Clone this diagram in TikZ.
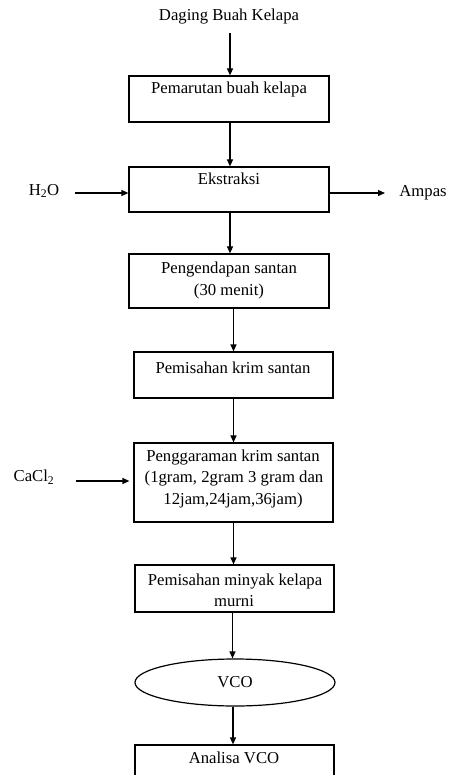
\documentclass[tikz,border=0pt]{standalone}
\usepackage{fontspec}
\setmainfont{Liberation Serif}
\usetikzlibrary{arrows.meta,shapes.geometric}
\begin{document}
\begin{tikzpicture}[x=1pt,y=-1pt,
  font=\fontsize{16.7}{19}\selectfont,
  stepbox/.style={draw,line width=1.2pt,minimum width=200pt,inner sep=0pt},
  oval/.style={draw,ellipse,line width=1.2pt,minimum width=200pt,minimum height=47pt,inner sep=0pt},
  txt/.style={inner sep=0pt},
  flow/.style={line width=1.2pt,-{Triangle[length=7pt,width=6pt]}}]
\useasboundingbox (0,0) rectangle (449,775);
\clip (0,0) rectangle (449,775);
\fill[white] (0,0) rectangle (449,775);
% boxes
\node[stepbox,minimum height=46pt] (b1) at (229,99) {};
\node[stepbox,minimum height=45pt] (b2) at (229,189.5) {};
\node[stepbox,minimum height=54pt] (b3) at (229,281) {};
\node[stepbox,minimum width=199pt,minimum height=46pt] (b4) at (233.5,375) {};
\node[stepbox,minimum width=199pt,minimum height=79pt] (b5) at (233.5,482.5) {};
\node[stepbox,minimum width=199pt,minimum height=47pt] (b6) at (234.5,588.5) {};
\node[oval] (vco) at (235,682.5) {VCO};
\node[stepbox,minimum width=199pt,minimum height=46pt] (b7) at (234.5,768) {};
% texts
\node[txt] (t0) at (229,17) {Daging Buah Kelapa};
\node[txt] (t1) at (229,89) {Pemarutan buah kelapa};
\node[txt] (t2) at (229,179) {Ekstraksi};
\node[txt] (t3a) at (229,270) {Pengendapan santan};
\node[txt] (t3b) at (229,291) {(30 menit)};
\node[txt] (t4) at (233,368) {Pemisahan krim santan};
\node[txt] (t5a) at (233,458) {Penggaraman krim santan};
\node[txt] (t5b) at (234,479) {(1gram, 2gram 3 gram dan};
\node[txt] (t5c) at (233,500) {12jam,24jam,36jam)};
\node[txt] (t6a) at (235,582) {Pemisahan minyak kelapa};
\node[txt] (t6b) at (234,601) {murni};
\node[txt] (t7) at (234,758) {Analisa VCO};
\node[txt] (h2o) at (44,191) {H\textsubscript{2}O};
\node[txt] (ampas) at (423,193) {Ampas};
\node[txt] (cacl) at (34,477) {CaCl\textsubscript{2}};
% connector end points
\coordinate (s0) at (230,33);
\coordinate (h2oin) at (75,193);
\coordinate (ampout) at (385,193);
\coordinate (caclin) at (76,481);
% connectors
\draw[flow] (s0) -- (s0 |- b1.north);
\draw[flow] (s0 |- b1.south) -- (s0 |- b2.north);
\draw[flow] (s0 |- b2.south) -- (s0 |- b3.north);
\draw[flow] (b4.north |- b3.south) -- (b4.north);
\draw[flow] (b4.south) -- (b5.north);
\draw[flow] (b5.south) -- (b5.south |- b6.north);
\draw[flow] ([xshift=-2pt]b6.south) -- ([xshift=-2pt]b6.south |- vco.north);
\draw[flow] ([xshift=-2pt]vco.south) -- ([xshift=-2pt]vco.south |- b7.north);
\draw[flow] (h2oin) -- (h2oin -| b2.west);
\draw[flow] (h2oin -| b2.east) -- (ampout);
\draw[flow,shorten >=4pt] (caclin) -- (caclin -| b5.west);
\end{tikzpicture}
\end{document}
